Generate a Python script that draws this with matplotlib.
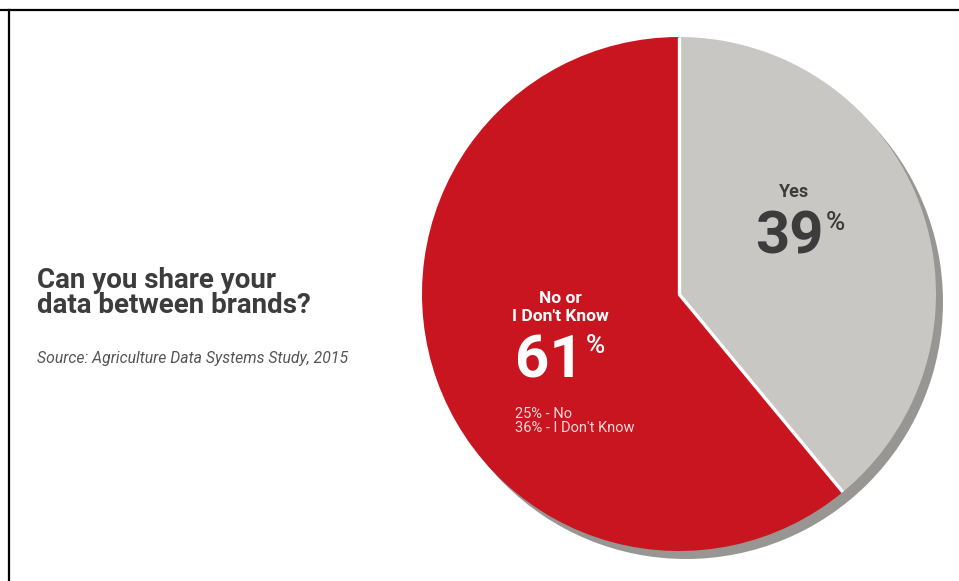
import matplotlib
matplotlib.use("Agg")
import matplotlib.pyplot as plt
from matplotlib.patches import Circle
from matplotlib.lines import Line2D
import numpy as np

# Survey answers (percent)
categories = ["Yes", "No or\nI Don't Know"]
values = [39, 61]
breakdown_values = [25, 36]
breakdown_labels = ["No", "I Don't Know"]

title_lines = ["Can you share your", "data between brands?"]
source_text = "Source: Agriculture Data Systems Study, 2015"

RED = "#C8151F"
GREY = "#C8C7C3"
SHADOW = "#979692"
DARK = "#3c3c3c"

W, H = 959, 581
fig = plt.figure(figsize=(W / 100, H / 100), dpi=100)
ax = fig.add_axes([0, 0, 1, 1])


def Y(py):
    """Pixel row (from top) to data y (from bottom)."""
    return H - py


cx, cy, R = 679, Y(294), 257

SANS = ["Roboto", "DejaVu Sans"]

# drop shadow behind the pie
ax.add_patch(Circle((cx + 7, cy - 8), R, facecolor=SHADOW, edgecolor="none", zorder=0))

wedges, _ = ax.pie(values, colors=[GREY, RED], startangle=90, counterclock=False,
                   center=(cx, cy), radius=R, frame=True,
                   wedgeprops=dict(edgecolor="none", zorder=1))

# white separators along the slice boundaries
angles = sorted({round(w.theta1, 6) % 360 for w in wedges})
for a in angles:
    t = np.deg2rad(a)
    ax.plot([cx, cx + R * np.cos(t)], [cy, cy + R * np.sin(t)],
            color="white", lw=2.4, solid_capstyle="butt", zorder=2)

ax.set_xlim(0, W)
ax.set_ylim(0, H)
ax.set_aspect("auto")
ax.axis("off")

# title and source
ax.text(37, Y(288), title_lines[0], fontsize=20, fontweight="bold", color=DARK,
        family=SANS, va="baseline", ha="left")
ax.text(37, Y(313), title_lines[1], fontsize=20, fontweight="bold", color=DARK,
        family=SANS, va="baseline", ha="left")
ax.text(37, Y(363), source_text, fontsize=11.3, style="italic", color="#555555",
        family=SANS, va="baseline", ha="left")

# "Yes" slice label
ax.text(794, Y(197), categories[0], fontsize=13, fontweight="bold", color=DARK,
        family=SANS, ha="center", va="baseline")
ax.text(824, Y(253), f"{values[0]}", fontsize=43, fontweight="bold", color=DARK,
        family=SANS, ha="right", va="baseline")
ax.text(826, Y(211), "%", fontsize=19, fontweight="medium", color=DARK, family=SANS,
        ha="left", va="top")

# "No or I Don't Know" slice label
ax.text(560, Y(321), categories[1], fontsize=12.5, fontweight="bold", color="white",
        family=SANS, ha="center", va="baseline", linespacing=1.25)
ax.text(584, Y(378), f"{values[1]}", fontsize=43, fontweight="bold", color="white",
        family=SANS, ha="right", va="baseline")
ax.text(586, Y(334), "%", fontsize=19, fontweight="medium", color="white", family=SANS,
        ha="left", va="top")

sub = "\n".join(f"{v}% - {l}" for v, l in zip(breakdown_values, breakdown_labels))
ax.text(515, Y(432), sub, fontsize=10.5, color="#F4D8D8", family=SANS,
        ha="left", va="baseline", linespacing=1.0)

# frame lines along top and left edges
fig.add_artist(Line2D([0, 1], [1 - 10 / H, 1 - 10 / H], color="black", lw=1.6,
                      transform=fig.transFigure))
fig.add_artist(Line2D([9 / W, 9 / W], [0, 1 - 10 / H], color="black", lw=1.6,
                      transform=fig.transFigure))

fig.savefig("out.png", dpi=100)
